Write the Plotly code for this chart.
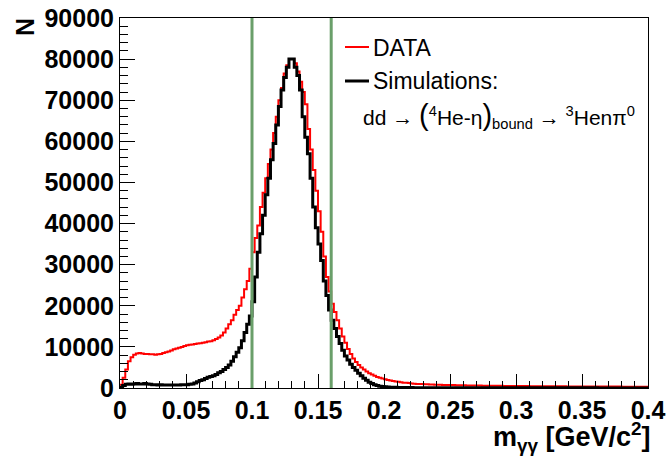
import plotly.graph_objects as go

# histogram binning: 0 .. 0.4 GeV/c^2, 200 bins of 0.002
bin_width = 0.002
n_bins = 200
edges = [round(i * bin_width, 4) for i in range(n_bins + 1)]

# DATA, counts per bin in thousands
data_k = [
    0.8, 2.5, 4.5, 6.5, 7.5, 8.1, 8.4, 8.5, 8.4, 8.3,
    8.3, 8.2, 8.2, 8.1, 8.2, 8.3, 8.5, 8.7, 8.9, 9.1,
    9.4, 9.6, 9.8, 10.0, 10.2, 10.4, 10.5, 10.6, 10.7, 10.8,
    10.9, 11.0, 11.1, 11.3, 11.4, 11.6, 11.9, 12.3, 12.8, 13.5,
    14.5, 15.5, 16.5, 17.8, 19.0, 20.0, 22.0, 24.0, 26.0, 29.0,
    33.0, 36.5, 39.5, 44.0, 47.5, 51.0, 54.5, 58.0, 62.0, 66.0,
    70.0, 73.0, 76.5, 78.5, 80.0, 80.0, 79.0, 77.0, 74.5, 72.0,
    69.0, 63.0, 58.0, 53.0, 48.0, 43.0, 38.0, 32.0, 27.0, 23.5,
    20.5, 18.5, 16.5, 14.5, 12.5, 11.0, 9.5, 8.3, 7.2, 6.3,
    5.6, 5.0, 4.5, 4.0, 3.6, 3.3, 3.0, 2.7, 2.5, 2.3,
    2.1, 1.95, 1.8, 1.7, 1.6, 1.5, 1.4, 1.3, 1.25, 1.2,
    1.1, 1.05, 1.0, 1.0, 0.95, 0.9, 0.9, 0.85, 0.85, 0.8,
    0.8, 0.78, 0.75, 0.75, 0.72, 0.7, 0.7, 0.68, 0.66, 0.65,
    0.64, 0.62, 0.62, 0.6, 0.6, 0.58, 0.58, 0.57, 0.56, 0.55,
    0.55, 0.54, 0.53, 0.52, 0.52, 0.51, 0.5, 0.5, 0.49, 0.48,
    0.48, 0.47, 0.47, 0.46, 0.46, 0.45, 0.45, 0.44, 0.44, 0.43,
    0.43, 0.42, 0.42, 0.42, 0.41, 0.41, 0.4, 0.4, 0.4, 0.39,
    0.39, 0.39, 0.38, 0.38, 0.38, 0.37, 0.37, 0.37, 0.36, 0.36,
    0.36, 0.36, 0.35, 0.35, 0.35, 0.35, 0.34, 0.34, 0.34, 0.34,
    0.33, 0.33, 0.33, 0.33, 0.33, 0.32, 0.32, 0.32, 0.32, 0.32,
]

# Simulations, counts per bin in thousands
sim_k = [
    0.2, 0.6, 0.9, 1.0, 0.9, 1.0, 1.1, 1.0, 1.0, 1.1,
    1.0, 0.9, 0.8, 0.8, 0.7, 0.8, 0.7, 0.7, 0.7, 0.7,
    0.7, 0.7, 0.7, 0.8, 0.8, 0.8, 0.9, 1.0, 1.2, 1.5,
    1.8, 2.0, 2.3, 2.6, 2.8, 3.0, 3.3, 3.7, 4.0, 4.5,
    5.0, 5.6, 6.5, 7.6, 8.7, 9.8, 11.5, 13.5, 15.5, 17.5,
    21.0, 27.0, 33.0, 37.5, 42.0, 47.0, 51.0, 55.5, 59.5, 64.0,
    68.5, 72.5, 75.5, 78.0, 80.0, 80.0, 78.0, 76.0, 72.5, 66.0,
    61.0, 57.0, 51.0, 44.0, 39.0, 35.0, 31.0, 26.0, 22.5, 19.0,
    16.5, 14.5, 12.5, 10.8, 9.2, 7.8, 6.8, 5.8, 5.0, 4.3,
    3.6, 3.0, 2.4, 1.9, 1.4, 1.1, 0.8, 0.6, 0.45, 0.35,
    0.3, 0.25, 0.2, 0.2, 0.18, 0.15, 0.15, 0.12, 0.12, 0.1,
    0.1, 0.09, 0.09, 0.08, 0.08, 0.08, 0.08, 0.07, 0.07, 0.07,
    0.07, 0.06, 0.06, 0.06, 0.06, 0.06, 0.06, 0.06, 0.06, 0.06,
    0.06, 0.06, 0.06, 0.06, 0.05, 0.05, 0.05, 0.05, 0.05, 0.05,
    0.05, 0.05, 0.05, 0.05, 0.05, 0.05, 0.05, 0.05, 0.05, 0.05,
    0.05, 0.04, 0.04, 0.04, 0.04, 0.04, 0.04, 0.04, 0.04, 0.04,
    0.04, 0.04, 0.04, 0.04, 0.04, 0.04, 0.04, 0.04, 0.04, 0.04,
    0.04, 0.04, 0.04, 0.04, 0.04, 0.04, 0.04, 0.04, 0.04, 0.04,
    0.04, 0.03, 0.03, 0.03, 0.03, 0.03, 0.03, 0.03, 0.03, 0.03,
    0.03, 0.03, 0.03, 0.03, 0.03, 0.03, 0.03, 0.03, 0.03, 0.03,
]

data_counts = [v * 1000 for v in data_k]
sim_counts = [v * 1000 for v in sim_k]

cut_lines = [0.1, 0.16]
x_ticks = [0, 0.05, 0.1, 0.15, 0.2, 0.25, 0.3, 0.35, 0.4]
x_tick_labels = ["0", "0.05", "0.1", "0.15", "0.2", "0.25", "0.3", "0.35", "0.4"]
y_ticks = [0, 10000, 20000, 30000, 40000, 50000, 60000, 70000, 80000, 90000]
y_tick_labels = [str(v) for v in y_ticks]

fig = go.Figure()
fig.add_trace(go.Scatter(
    x=edges, y=data_counts + [data_counts[-1]], mode="lines",
    line=dict(color="#ff0000", width=2, shape="hv"), name="DATA", showlegend=False,
))
fig.add_trace(go.Scatter(
    x=edges, y=sim_counts + [sim_counts[-1]], mode="lines",
    line=dict(color="#000000", width=3, shape="hv"), name="Simulations", showlegend=False,
))

for xc in cut_lines:
    fig.add_shape(type="line", xref="x", yref="paper", x0=xc, x1=xc, y0=0, y1=1,
                  line=dict(color="#6a9f6a", width=3))

W, H = 669, 457
L, R, T, B = 120, 21, 18, 69
pw, ph = W - L - R, H - T - B

def px(xp):
    return (xp - L) / pw

def py(yp):
    return (H - B - yp) / ph

FONT = "Liberation Sans, Arial, sans-serif"

# legend
fig.add_shape(type="line", xref="paper", yref="paper", x0=px(345), x1=px(369), y0=py(47), y1=py(47),
              line=dict(color="#ff0000", width=2))
fig.add_shape(type="line", xref="paper", yref="paper", x0=px(345), x1=px(369), y0=py(81), y1=py(81),
              line=dict(color="#000000", width=3))
leg_font = dict(family=FONT, size=23, color="black")
fig.add_annotation(xref="paper", yref="paper", x=px(371), y=py(48), text="DATA",
                   showarrow=False, xanchor="left", yanchor="middle", font=leg_font)
fig.add_annotation(xref="paper", yref="paper", x=px(371), y=py(81), text="Simulations:",
                   showarrow=False, xanchor="left", yanchor="middle", font=leg_font)
fig.add_annotation(xref="paper", yref="paper", x=px(361), y=py(115),
                   text="dd → <span style='font-size:29px'>(</span><sup>4</sup>He-η<span style='font-size:29px'>)</span><sub>bound</sub> → <sup>3</sup>Henπ<sup>0</sup>",
                   showarrow=False, xanchor="left", yanchor="middle",
                   font=dict(family=FONT, size=21, color="black"))

# axis titles
fig.add_annotation(xref="paper", yref="paper", x=px(653), y=py(437),
                   text="m<sub>γγ</sub> [GeV/c<sup>2</sup>]", showarrow=False,
                   xanchor="right", yanchor="middle",
                   font=dict(family=FONT, size=27, color="black", weight="bold"))
fig.add_annotation(xref="paper", yref="paper", x=px(25), y=py(16), text="N", textangle=-90,
                   showarrow=False, xanchor="center", yanchor="top",
                   font=dict(family=FONT, size=25, color="black", weight="bold"))

tick_font = dict(family=FONT, size=25, color="black", weight="bold")
fig.update_layout(
    width=W, height=H,
    margin=dict(l=L, r=R, t=T, b=B, pad=0, autoexpand=False),
    paper_bgcolor="white", plot_bgcolor="white",
    xaxis=dict(range=[0, 0.4], tickvals=x_ticks, ticktext=x_tick_labels, automargin=False,
               ticks="inside", ticklen=14, tickwidth=1, tickcolor="black",
               minor=dict(dtick=0.01, tick0=0, ticks="inside", ticklen=7, tickcolor="black"),
               showline=True, linecolor="black", linewidth=1, mirror=True,
               showgrid=False, zeroline=False, tickfont=tick_font),
    yaxis=dict(range=[0, 90000], tickvals=y_ticks, ticktext=y_tick_labels, automargin=False,
               ticks="inside", ticklen=15, tickwidth=1, tickcolor="black",
               minor=dict(dtick=2000, tick0=0, ticks="inside", ticklen=8, tickcolor="black"),
               showline=True, linecolor="black", linewidth=1, mirror=True,
               showgrid=False, zeroline=False, tickfont=tick_font),
)

fig.write_html("out.html", config={"displayModeBar": False},
               post_script="document.body.style.margin='0';document.body.style.overflow='hidden';")
